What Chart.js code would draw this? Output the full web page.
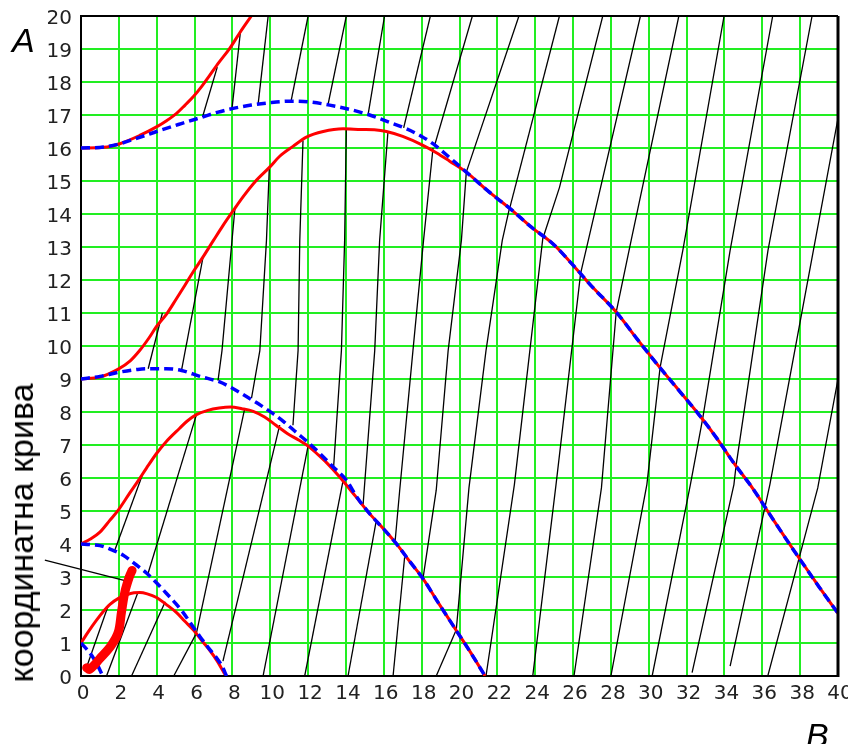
<!DOCTYPE html>
<html>
<head>
<meta charset="utf-8">
<script src="https://cdn.jsdelivr.net/npm/chart.js@4.4.1/dist/chart.umd.min.js"></script>
<style>
html,body{margin:0;padding:0;background:#fff;}
#wrap{position:relative;width:848px;height:744px;overflow:hidden;}
canvas{display:block;}
.lbl{position:absolute;font-family:"Liberation Sans",Arial,sans-serif;color:#000;white-space:nowrap;line-height:34px;font-size:34px;}
</style>
</head>
<body>
<div id="wrap">
<canvas id="c" width="848" height="744"></canvas>
<div class="lbl" style="left:12px;top:23px;font-style:italic;">A</div>
<div class="lbl" style="left:806px;top:718px;font-style:italic;">B</div>
<div class="lbl" style="left:21px;top:533px;transform:translate(-50%,-50%) rotate(-90deg);">координатна крива</div>
</div>
<script>
// ---- tick values ----
const xTickValues = [0,2,4,6,8,10,12,14,16,18,20,22,24,26,28,30,32,34,36,38,40];
const yTickValues = [0,1,2,3,4,5,6,7,8,9,10,11,12,13,14,15,16,17,18,19,20];

// ---- red (solid) curves ----
const red1 = [[0,1],[0.4,1.35],[0.82,1.69],[1.2,1.97],[1.53,2.17],[2.0,2.36],[2.41,2.46],[2.8,2.52],[3.11,2.53],[3.5,2.49],[3.99,2.38],[4.5,2.17],[5.05,1.92],[5.5,1.65],[5.93,1.4],[6.4,1.06],[6.8,0.78],[7.2,0.45],[7.6,0.05]];
const red2 = [[0,4],[0.5,4.15],[1.0,4.36],[1.5,4.7],[2.0,5.05],[2.58,5.55],[3.0,5.9],[3.46,6.3],[4.0,6.75],[4.5,7.1],[5.2,7.5],[5.6,7.72],[6.1,7.92],[6.7,8.05],[7.3,8.12],[7.9,8.15],[8.5,8.1],[9.1,8.02],[9.7,7.85],[10.3,7.6],[10.9,7.35],[11.5,7.15],[12.0,6.97],[12.5,6.72],[13.0,6.45],[13.67,6.03],[14.5,5.45],[15.25,4.92],[16.0,4.45],[16.66,4.01],[17.4,3.45],[18.07,2.95],[18.9,2.2],[19.83,1.38],[20.6,0.7],[21.35,0.0]];
const red3 = [[0,9],[1.0,9.06],[1.97,9.3],[2.6,9.55],[3.11,9.87],[3.6,10.25],[4.0,10.6],[4.5,10.95],[5.05,11.44],[5.5,11.85],[5.93,12.25],[6.45,12.7],[7.0,13.2],[7.5,13.65],[8.04,14.1],[8.6,14.55],[9.2,14.98],[9.97,15.42],[10.5,15.75],[11.2,16.05],[11.91,16.33],[12.8,16.5],[13.85,16.58],[14.8,16.56],[15.5,16.55],[16.14,16.5],[17.0,16.35],[18.07,16.08],[18.8,15.85],[19.48,15.6],[20.36,15.27],[21.5,14.7],[22.8,14.1],[23.8,13.6],[24.93,13.1],[26.0,12.45],[27.0,11.8],[28.28,11.03],[29.4,10.2],[30.57,9.36],[31.6,8.65],[32.68,7.9],[33.6,7.2],[34.5,6.45],[35.5,5.68],[36.37,4.92],[37.2,4.2],[37.96,3.56],[39.0,2.7],[40,1.9]];
const red4 = [[0,16],[1.2,16.02],[2.05,16.13],[3.1,16.38],[3.99,16.64],[4.5,16.82],[5.05,17.05],[5.5,17.3],[5.93,17.55],[6.4,17.88],[6.8,18.2],[7.3,18.6],[7.86,19.02],[8.4,19.5],[9.0,20.0]];

// ---- blue (dashed) curves ----
const blue1 = [[0,1],[0.35,0.78],[0.65,0.55],[0.9,0.3],[1.15,0]];
const blue2 = [[0,4],[0.5,3.98],[1.0,3.95],[1.6,3.83],[2.23,3.66],[2.8,3.42],[3.46,3.12],[4.0,2.82],[4.52,2.5],[5.0,2.2],[5.4,1.92],[5.85,1.55],[6.28,1.2],[6.7,0.88],[7.16,0.55],[7.45,0.3],[7.69,0.0]];
const blue3 = [[0,9],[1.0,9.08],[2.05,9.21],[3.0,9.29],[3.55,9.31],[4.5,9.31],[5.31,9.26],[6.28,9.08],[7.33,8.91],[8.0,8.72],[8.74,8.47],[9.5,8.2],[10.15,7.95],[10.77,7.68],[11.38,7.38],[12.08,7.04],[12.7,6.7],[13.3,6.35],[14.03,5.93],[14.6,5.4],[15.25,4.92],[16.0,4.45],[16.66,4.01],[17.4,3.45],[18.07,2.95],[18.9,2.2],[19.83,1.38],[20.6,0.7],[21.35,0.0]];
const blue4 = [[0,16],[1.2,16.03],[2.0,16.12],[2.76,16.26],[3.5,16.4],[4.0,16.5],[5.3,16.74],[6.42,16.94],[7.2,17.08],[8.04,17.2],[9.0,17.3],[9.8,17.36],[11.0,17.42],[12.0,17.4],[13.14,17.3],[14.2,17.17],[15.25,17.0],[16.2,16.8],[17.2,16.58],[18.0,16.35],[18.6,16.13],[19.5,15.7],[20.36,15.27],[21.5,14.7],[22.8,14.1],[23.8,13.6],[24.93,13.1],[26.0,12.45],[27.0,11.8],[28.28,11.03],[29.4,10.2],[30.57,9.36],[31.6,8.65],[32.68,7.9],[33.6,7.2],[34.5,6.45],[35.5,5.68],[36.37,4.92],[37.2,4.2],[37.96,3.56],[39.0,2.7],[40,1.9]];

// ---- thin black lines (polylines) ----
const blackLines = [
  [[0.3,0.27],[1.45,2.15]],
  [[1.35,0],[3.0,2.52]],
  [[2.67,0],[4.45,2.25]],
  [[4.9,0],[6.1,1.3]],
  [[1.79,3.82],[3.28,6.15]],
  [[3.55,3.12],[6.1,7.92]],
  [[6.1,1.3],[8.65,8.1]],
  [[7.5,0.45],[10.5,7.6]],
  [[9.62,0],[12.0,6.97]],
  [[11.82,0],[13.85,5.93]],
  [[14.11,0],[15.6,4.7]],
  [[16.49,0],[17.1,3.6]],
  [[18.77,0],[19.83,1.4]],
  [[3.55,9.31],[4.3,11.0]],
  [[5.31,9.26],[6.45,12.7]],
  [[7.24,8.95],[7.45,9.86],[8.13,14.15]],
  [[9.01,8.42],[9.45,9.86],[9.8,13.2],[9.95,15.4]],
  [[11.2,7.6],[11.47,9.86],[11.56,13.2],[11.73,16.22]],
  [[13.35,6.35],[13.76,9.86],[13.93,13.2],[14.02,16.58]],
  [[14.9,5.15],[15.52,9.86],[15.78,13.2],[16.22,16.5]],
  [[16.6,4.1],[16.84,5.63],[17.54,9.86],[18.1,13.2],[18.6,16.0]],
  [[18.07,2.95],[18.77,5.63],[19.4,9.86],[20.1,13.2],[20.36,15.27]],
  [[19.83,1.4],[20.5,5.7],[21.4,9.86],[22.26,13.2],[22.65,14.2]],
  [[21.4,0],[22.9,5.8],[24.4,13.25],[25.28,14.8],[27.57,20]],
  [[23.87,0],[25.1,5.8],[26.4,12.2],[29.56,20]],
  [[26.05,0],[27.5,5.7],[28.28,11.03],[29.07,13.2],[31.59,20]],
  [[28.0,0],[29.9,5.8],[30.6,9.35],[31.8,12.9],[33.98,20]],
  [[30.18,0],[32.2,5.8],[32.85,7.8],[34.3,12.9],[36.55,20]],
  [[32.29,0.1],[34.5,5.8],[34.62,6.4],[36.3,12.9],[38.63,20]],
  [[34.3,0.3],[36.4,5.8],[38.7,12.9],[40,16.9]],
  [[36.29,0],[38.93,5.7],[40,9.0]],
  [[6.42,16.94],[7.2,18.45]],
  [[7.98,17.2],[8.42,19.5]],
  [[9.36,17.33],[9.89,20]],
  [[11.1,17.42],[12.0,20]],
  [[13.05,17.31],[14.02,20]],
  [[15.17,17.01],[16.04,20]],
  [[17.05,16.61],[18.46,20]],
  [[18.69,16.09],[20.68,20]],
  [[20.36,15.27],[23.14,20]],
  [[22.65,14.17],[25.28,20]]
];

// ---- hand annotations ----
const squiggle = [[0.3,0.25],[0.45,0.2],[1.0,0.53],[1.6,0.93],[1.97,1.33],[2.14,1.94],[2.32,2.55],[2.55,3.0],[2.7,3.2]];
const pointer = [[-1.91,3.51],[2.58,2.85]];

const toXY = a => a.map(p => ({x:p[0], y:p[1]}));

const datasets = [];
blackLines.forEach(l => datasets.push({data:toXY(l), showLine:true, borderColor:'#000', borderWidth:1.3, pointRadius:0, order:10, tension:0}));
[red1,red2,red3,red4].forEach(c => datasets.push({data:toXY(c), showLine:true, borderColor:'#ff0000', borderWidth:3, pointRadius:0, order:5, cubicInterpolationMode:'monotone', borderJoinStyle:'round'}));
[blue1,blue2,blue3,blue4].forEach(c => datasets.push({data:toXY(c), showLine:true, borderColor:'#0000ff', borderWidth:3.5, borderDash:[9,5], pointRadius:0, order:4, cubicInterpolationMode:'monotone'}));
datasets.push({data:toXY(squiggle), showLine:true, borderColor:'#ff0000', borderWidth:9, borderCapStyle:'round', borderJoinStyle:'round', pointRadius:0, order:1, tension:0.35, clip:false});
datasets.push({data:toXY(pointer), showLine:true, borderColor:'#000', borderWidth:1.3, pointRadius:0, order:1, clip:false});

const frame = {
  id:'frame',
  afterDraw(chart){
    const a = chart.chartArea, ctx = chart.ctx;
    ctx.save();
    ctx.strokeStyle = '#000';
    ctx.lineWidth = 2;
    ctx.beginPath(); ctx.moveTo(a.left, a.top); ctx.lineTo(a.right, a.top); ctx.stroke();
    ctx.lineWidth = 3;
    ctx.beginPath(); ctx.moveTo(a.right, a.top); ctx.lineTo(a.right, a.bottom+1); ctx.stroke();
    ctx.restore();
  }
};

const tickFont = {family:'"DejaVu Sans", sans-serif', size:20};
new Chart(document.getElementById('c'), {
  type:'scatter',
  data:{datasets},
  options:{
    responsive:false, animation:false, events:[],
    layout:{padding:{left:0, top:16, right:10, bottom:0}},
    plugins:{legend:{display:false}, tooltip:{enabled:false}},
    scales:{
      x:{type:'linear', min:0, max:40,
         afterBuildTicks: s => { s.ticks = xTickValues.map(v => ({value:v})); },
         afterFit: s => { s.height = 68; s.paddingLeft = 0; s.paddingRight = 0; },
         grid:{color:'#22ee22', lineWidth:2, drawTicks:false},
         border:{display:true, color:'#000', width:2},
         ticks:{font:tickFont, color:'#222', padding:6, maxRotation:0, autoSkip:false, labelOffset:2}},
      y:{type:'linear', min:0, max:20,
         afterBuildTicks: s => { s.ticks = yTickValues.map(v => ({value:v})); },
         afterFit: s => { s.width = 81; s.paddingTop = 0; s.paddingBottom = 0; },
         grid:{color:'#22ee22', lineWidth:2, drawTicks:false},
         border:{display:true, color:'#000', width:2},
         ticks:{font:tickFont, color:'#222', padding:9, autoSkip:false, labelOffset:3}}
    }
  },
  plugins:[frame]
});
</script>
</body>
</html>
